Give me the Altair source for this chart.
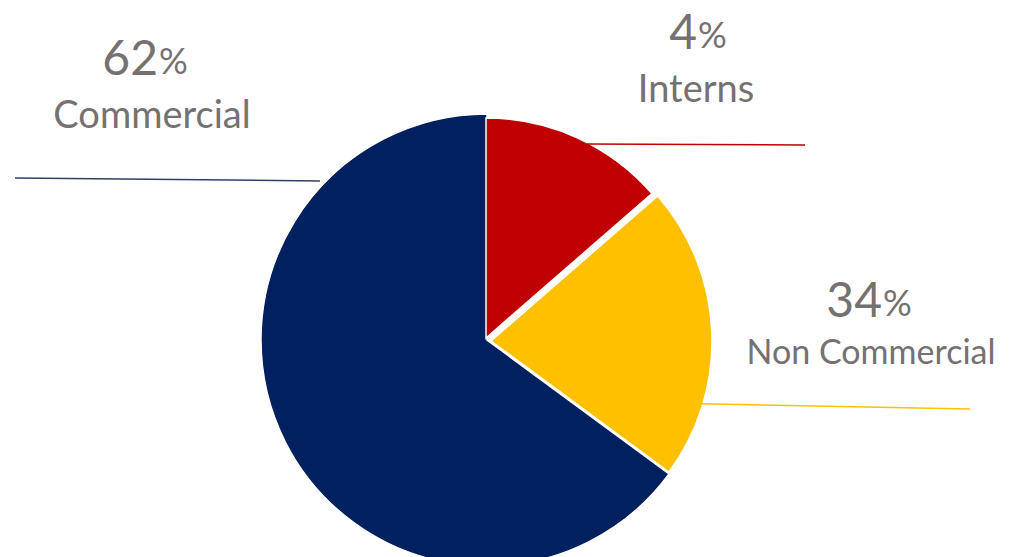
import altair as alt
import pandas as pd

# ---- data ----
categories = ["Interns", "Non Commercial", "Commercial"]
slice_share = [13.6, 21.5, 64.9]          # shares as drawn by the slices
label_pct = ["4", "34", "62"]              # percentages printed on the labels
slice_colors = ["#C00000", "#FFC000", "#002060"]
line_colors = ["#C00000", "#FFC000", "#2F3F66"]
text_color = "#767171"

df = pd.DataFrame({
    "category": categories,
    "share": slice_share,
    "pct": label_pct,
    "rank": list(range(len(categories))),
})

# ---- layout (pixel placement of pie pieces and annotations) ----
layout = {
    "Interns": dict(cx=478, cy=330, r=220, line=(579, 136, 797, 137),
                    num=(689, 41), name=(688, 94), name_size=38),
    "Non Commercial": dict(cx=483, cy=333, r=221, line=(654, 395, 962, 401),
                           num=(874, 309), name=(863, 356), name_size=34),
    "Commercial": dict(cx=479, cy=332, r=226, line=(7, 170, 312, 173),
                       num=(150, 67), name=(144, 120), name_size=38),
}

FONT = "Lato"

base = (
    alt.Chart(df)
    .transform_window(s1="sum(share)", sort=[alt.SortField("rank")])
    .transform_calculate(s0="datum.s1 - datum.share")
)

theta_scale = alt.Scale(domain=[0, 100], range=[0, 6.283185307179586])
color_scale = alt.Scale(domain=categories, range=slice_colors)

layers = []
for cat in ["Commercial", "Non Commercial", "Interns"]:
    g = layout[cat]
    layers.append(
        base.transform_filter(alt.datum.category == cat)
        .mark_arc(stroke="white", strokeWidth=1.5, outerRadius=g["r"])
        .encode(
            theta=alt.Theta("s0:Q", scale=theta_scale),
            theta2="s1:Q",
            color=alt.Color("category:N", scale=color_scale, legend=None),
            x=alt.value(g["cx"]),
            y=alt.value(g["cy"]),
        )
    )

for cat, lc in zip(categories, line_colors):
    g = layout[cat]
    x1, y1, x2, y2 = g["line"]
    sub = base.transform_filter(alt.datum.category == cat)
    layers.append(
        sub.mark_rule(color=lc, strokeWidth=1.5).encode(
            x=alt.value(x1), y=alt.value(y1), x2=alt.value(x2), y2=alt.value(y2)
        )
    )
    nx, ny = g["num"]
    layers.append(
        sub.mark_text(align="right", baseline="alphabetic", font=FONT, fontSize=48, color=text_color)
        .encode(x=alt.value(nx), y=alt.value(ny), text="pct:N")
    )
    layers.append(
        sub.mark_text(align="left", baseline="alphabetic", font=FONT, fontSize=36, color=text_color, text="%")
        .encode(x=alt.value(nx + 1), y=alt.value(ny - 1))
    )
    mx, my = g["name"]
    layers.append(
        sub.mark_text(align="center", baseline="alphabetic", font=FONT, fontSize=g["name_size"], color=text_color)
        .encode(x=alt.value(mx), y=alt.value(my), text="category:N")
    )

chart = (
    alt.layer(*layers)
    .properties(
        width=996,
        height=549,
        padding=0,
        autosize=alt.AutoSizeParams(type="fit", contains="padding"),
    )
    .configure_view(stroke=None)
)

chart.save("out.html", embed_options={"renderer": "svg", "actions": False})
